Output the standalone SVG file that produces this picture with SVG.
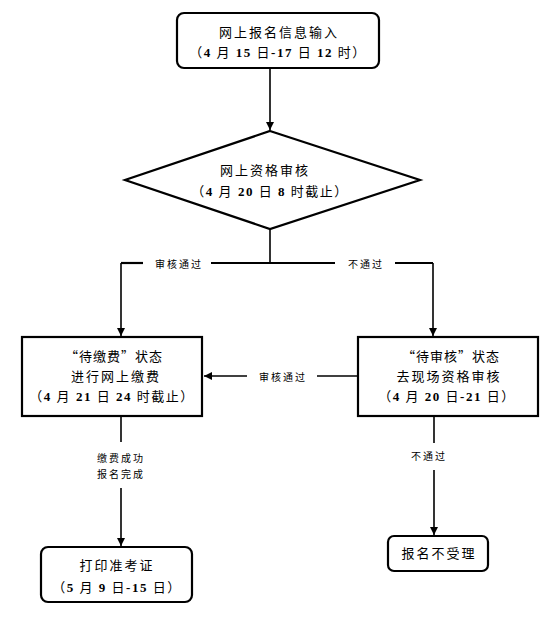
<svg xmlns="http://www.w3.org/2000/svg" width="560" height="617" viewBox="0 0 560 617">
<defs>
<marker id="arr" markerUnits="userSpaceOnUse" markerWidth="9" markerHeight="9" refX="8" refY="4" orient="auto">
<path d="M0,0 L8,4 L0,8 z" fill="#000"/>
</marker>
<style>
.box{fill:#fff;stroke:#000;stroke-width:2.2}
.t{font-family:"Liberation Serif","Noto Sans CJK SC",serif;font-size:13px;letter-spacing:2px;text-anchor:middle;dominant-baseline:central;fill:#000}
.q{font-family:"Noto Sans CJK SC",sans-serif;letter-spacing:1px}
.d{font-family:"Liberation Serif","Noto Sans CJK SC",serif;font-size:13px;letter-spacing:1.5px;text-anchor:middle;dominant-baseline:central;fill:#000}
.n{font-weight:bold}
.l{font-family:"Noto Sans CJK SC",sans-serif;font-size:10px;letter-spacing:2px;text-anchor:middle;dominant-baseline:central;fill:#000}
.c{fill:none;stroke:#000;stroke-width:1.6}
</style>
</defs>
<rect width="560" height="617" fill="#fff"/>
<g id="connectors">
<path class="c" d="M270,68 V130" marker-end="url(#arr)"/>
<path class="c" d="M270,229 V263"/>
<path class="c" style="stroke-width:2.2" d="M143,263 H121"/>
<path class="c" d="M121,263 V336" marker-end="url(#arr)"/>
<path class="c" style="stroke-width:2.2" d="M211,263 H335"/>
<path class="c" style="stroke-width:2.2" d="M395,263 H433"/>
<path class="c" d="M433,263 V336" marker-end="url(#arr)"/>
<path class="c" d="M358,376 H317"/>
<path class="c" d="M247,376 H204" marker-end="url(#arr)"/>
<path class="c" d="M121,416 V442"/>
<path class="c" d="M121,488 V546" marker-end="url(#arr)"/>
<path class="c" d="M434,416 V443"/>
<path class="c" d="M434,470 V535" marker-end="url(#arr)"/>
<text class="l" x="179" y="263">审核通过</text>
<text class="l" x="366" y="263">不通过</text>
<text class="l" x="283" y="376">审核通过</text>
<text class="l" x="121" y="457">缴费成功</text>
<text class="l" x="121" y="473">报名完成</text>
<text class="l" x="429" y="455">不通过</text>
</g>
<g id="n-input">
<rect class="box" x="177" y="13" width="202" height="55" rx="7"/>
<text class="t" x="279" y="32">网上报名信息输入</text>
<text class="d" x="278" y="52">（<tspan class="n">4</tspan> 月 <tspan class="n">15</tspan> 日<tspan class="n">-17</tspan> 日 <tspan class="n">12</tspan> 时）</text>
</g>
<g id="n-review">
<path class="box" d="M270,131 L420,180 L270,229 L125,180 Z"/>
<text class="t" x="265" y="170">网上资格审核</text>
<text class="d" x="270" y="191">（<tspan class="n">4</tspan> 月 <tspan class="n">20</tspan> 日 <tspan class="n">8</tspan> 时截止）</text>
</g>
<g id="n-pay">
<rect class="box" x="22" y="337" width="180" height="79"/>
<text class="t q" x="114" y="355">“待缴费”状态</text>
<text class="t" x="116" y="376">进行网上缴费</text>
<text class="d" x="112" y="396">（<tspan class="n">4</tspan> 月 <tspan class="n">21</tspan> 日 <tspan class="n">24</tspan> 时截止）</text>
</g>
<g id="n-onsite">
<rect class="box" x="358" y="337" width="180" height="79"/>
<text class="t q" x="451" y="355">“待审核”状态</text>
<text class="t" x="449" y="376">去现场资格审核</text>
<text class="d" x="447" y="396">（<tspan class="n">4</tspan> 月 <tspan class="n">20</tspan> 日<tspan class="n">-21</tspan> 日）</text>
</g>
<g id="n-print">
<rect class="box" x="41" y="547" width="151" height="55" rx="7"/>
<text class="t" x="117" y="565">打印准考证</text>
<text class="d" x="117" y="587">（<tspan class="n">5</tspan> 月 <tspan class="n">9</tspan> 日<tspan class="n">-15</tspan> 日）</text>
</g>
<g id="n-reject">
<rect class="box" x="388" y="536" width="100" height="35" rx="6"/>
<text class="t" x="439" y="553">报名不受理</text>
</g>
</svg>
